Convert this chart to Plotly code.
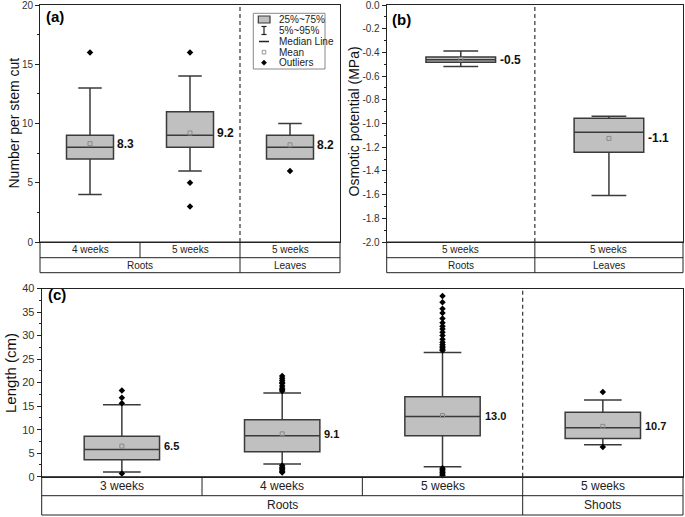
import plotly.graph_objects as go

W, H = 685, 517
FONT = "Arial, Liberation Sans, sans-serif"

# ---------------- data ----------------
# Panel (a): number per stem cut
a_cats = ["4 weeks", "5 weeks", "5 weeks"]
a_groups = ["Roots", "Roots", "Leaves"]
a_low = [4, 6, 7]
a_q1 = [7, 8, 7]
a_med = [8, 9, 8]
a_q3 = [9, 11, 9]
a_high = [13, 14, 10]
a_mean = [8.3, 9.2, 8.2]
a_out = [[16], [16, 5, 3], [6]]

# Panel (b): osmotic potential
b_cats = ["5 weeks", "5 weeks"]
b_groups = ["Roots", "Leaves"]
b_low = [-0.52, -1.607]
b_q1 = [-0.483, -1.242]
b_med = [-0.463, -1.073]
b_q3 = [-0.438, -0.955]
b_high = [-0.388, -0.938]
b_mean = [-0.46, -1.126]
b_labels = ["-0.5", "-1.1"]
b_out = [[], []]
b_ticks = [0.0, -0.2, -0.4, -0.6, -0.8, -1.0, -1.2, -1.4, -1.6, -1.8, -2.0]
b_ticktext = ["0.0", "-0.2", "-0.4", "-0.6", "-0.8", "-1.0", "-1.2", "-1.4", "-1.6", "-1.8", "-2.0"]

# Panel (c): length
c_cats = ["3 weeks", "4 weeks", "5 weeks", "5 weeks"]
c_groups = ["Roots", "Roots", "Roots", "Shoots"]
c_low = [1.0, 2.7, 2.1, 6.8]
c_q1 = [3.6, 5.3, 8.7, 8.1]
c_med = [5.8, 8.7, 12.8, 10.4]
c_q3 = [8.6, 12.1, 17.0, 13.7]
c_high = [15.3, 17.8, 26.4, 16.3]
c_mean = [6.5, 9.1, 13.0, 10.7]
c_out = [
    [15.6, 16.8, 18.3, 0.7],
    [18.2, 18.5, 18.8, 19.3, 19.8, 20.1, 20.5, 20.9, 21.4, 2.4, 2.0, 1.7, 1.4, 1.1, 0.9],
    [26.8, 27.1, 27.4, 27.7, 28.1, 28.6, 29.2, 30.0, 30.7, 31.4, 32.0, 32.7, 33.6,
     34.8, 35.7, 37.1, 38.4, 1.8, 1.5, 1.2, 0.9, 0.6, 0.3],
    [18.0, 6.3],
]

# ---------------- helpers ----------------
def px(x):
    return x / W

def py(y):
    return 1 - y / H

fig = go.Figure()
shapes = []
annotations = []

BOX_FILL = "#c0c0c0"
BOX_LINE = "#3a3a3a"
AX = "#222222"


def panel(idx, xpix, ypix, row_h, cats, groups, low, q1, med, q3, high, mean, outs,
          labels, yrange, ytick, panel_label, title, title_pos, plabel_pos,
          tick_font, table_font, title_font, val_font, tickvals=None, ticktext=None,
          minor_dtick=None):
    xa = "xaxis" if idx == 1 else f"xaxis{idx}"
    ya = "yaxis" if idx == 1 else f"yaxis{idx}"
    xr = "x" if idx == 1 else f"x{idx}"
    yr = "y" if idx == 1 else f"y{idx}"
    n = len(cats)
    pos = list(range(n))
    bw = 0.47

    fig.add_trace(go.Box(
        x=pos, q1=q1, median=med, q3=q3, lowerfence=low, upperfence=high,
        width=bw, whiskerwidth=0.5, fillcolor=BOX_FILL,
        line=dict(color=BOX_LINE, width=1.5), boxpoints=False,
        xaxis=xr, yaxis=yr, showlegend=False, hoverinfo="skip"))
    # mean markers
    fig.add_trace(go.Scatter(
        x=pos, y=mean, mode="markers", xaxis=xr, yaxis=yr, showlegend=False,
        marker=dict(symbol="square-open", size=4, color="#8a8a8a",
                    line=dict(width=1, color="#8a8a8a")), hoverinfo="skip"))
    # outliers
    ox, oy = [], []
    for i, o in enumerate(outs):
        ox += [i] * len(o)
        oy += o
    if ox:
        fig.add_trace(go.Scatter(
            x=ox, y=oy, mode="markers", xaxis=xr, yaxis=yr, showlegend=False,
            marker=dict(symbol="diamond", size=5, color="#000000"), hoverinfo="skip",
            cliponaxis=False))
    # value labels
    for i in range(n):
        annotations.append(dict(
            x=i + bw / 2 + 0.015, y=mean[i], xref=xr, yref=yr, text=f"<b>{labels[i]}</b>",
            showarrow=False, xanchor="left", yanchor="middle",
            font=dict(size=val_font, color="#111", family=FONT)))

    x0, x1 = xpix
    y0, y1 = ypix  # top, bottom in pixels
    fig.layout[xa] = dict(
        domain=[px(x0), px(x1)], range=[-0.5, n - 0.5], showgrid=False, zeroline=False,
        showticklabels=False, showline=True, mirror=True, linecolor=AX, linewidth=1,
        ticks="", anchor=yr, fixedrange=True, automargin=False)
    yax = dict(
        domain=[py(y1), py(y0)], range=yrange, showgrid=False, zeroline=False,
        showline=True, mirror=True, linecolor=AX, linewidth=1, ticks="outside",
        ticklen=4, tickcolor=AX, tickwidth=1, anchor=xr, automargin=False,
        ticklabeloverflow="allow",
        tickfont=dict(size=tick_font, color="#333", family=FONT),
        minor=dict(ticks="outside", ticklen=2, tickcolor=AX, dtick=minor_dtick),
        fixedrange=True)
    if tickvals is not None:
        yax.update(tickmode="array", tickvals=tickvals, ticktext=ticktext)
    else:
        yax.update(dtick=ytick, tick0=0)
    fig.layout[ya] = yax

    # table below the plot
    r1 = y1 + row_h[0]
    r2 = r1 + row_h[1]
    shapes.append(dict(type="rect", xref="paper", yref="paper", x0=px(x0), x1=px(x1),
                       y0=py(r2), y1=py(y1), line=dict(color=AX, width=1)))
    shapes.append(dict(type="line", xref="paper", yref="paper", x0=px(x0), x1=px(x1),
                       y0=py(r1), y1=py(r1), line=dict(color=AX, width=1)))
    for i in range(1, n):
        xb = i - 0.5
        if groups[i] != groups[i - 1]:
            shapes.append(dict(type="line", xref=xr, yref="paper", x0=xb, x1=xb,
                               y0=py(r2), y1=py(y1), line=dict(color=AX, width=1)))
            shapes.append(dict(type="line", xref=xr, yref="paper", x0=xb, x1=xb,
                               y0=py(y1), y1=py(y0),
                               line=dict(color="#333", width=1.2, dash="4px,3px")))
        else:
            shapes.append(dict(type="line", xref=xr, yref="paper", x0=xb, x1=xb,
                               y0=py(r1), y1=py(y1), line=dict(color=AX, width=1)))
    for i in range(n):
        annotations.append(dict(x=i, y=py((y1 + r1) / 2), xref=xr, yref="paper",
                                text=cats[i], showarrow=False, xanchor="center", yanchor="middle",
                                font=dict(size=table_font, color="#222", family=FONT)))
    # groups
    start = 0
    for i in range(1, n + 1):
        if i == n or groups[i] != groups[start]:
            annotations.append(dict(x=(start + i - 1) / 2, y=py((r1 + r2) / 2), xref=xr,
                                    yref="paper", text=groups[start], showarrow=False,
                                    xanchor="center", yanchor="middle",
                                    font=dict(size=table_font, color="#222", family=FONT)))
            start = i
    # panel label
    annotations.append(dict(x=px(plabel_pos[0]), y=py(plabel_pos[1]), xref="paper", yref="paper",
                            text=f"<b>{panel_label}</b>", showarrow=False, xanchor="left",
                            yanchor="middle", font=dict(size=15, color="#000", family=FONT)))
    # axis title
    annotations.append(dict(x=px(title_pos[0]), y=py(title_pos[1]), xref="paper", yref="paper",
                            text=title, textangle=-90, showarrow=False, xanchor="center",
                            yanchor="middle", font=dict(size=title_font, color="#111", family=FONT)))


panel(1, (40, 340), (5, 242), (15.7, 15), a_cats, a_groups, a_low, a_q1, a_med, a_q3, a_high,
      a_mean, a_out, [f"{m:.1f}" for m in a_mean], [0, 20], 5, "(a)", "Number per stem cut",
      (13, 123.5), (44, 17), 10, 10, 14, 12, minor_dtick=2.5)

panel(2, (386.7, 683), (5, 242), (15.7, 15), b_cats, b_groups, b_low, b_q1, b_med, b_q3, b_high,
      b_mean, b_out, b_labels, [-2, 0], 0.2, "(b)", "Osmotic potential (MPa)",
      (353.5, 122), (389.5, 19.3), 10, 10, 14, 12, tickvals=b_ticks, ticktext=b_ticktext,
      minor_dtick=0.1)

panel(3, (41.7, 683), (288.5, 476.7), (19, 19.3), c_cats, c_groups, c_low, c_q1, c_med, c_q3, c_high,
      c_mean, c_out, [f"{m:.1f}" for m in c_mean], [0, 40], 5, "(c)", "Length (cm)",
      (10, 373), (45.5, 294), 11, 12, 15, 11, minor_dtick=2.5)

# ---------------- legend for panel (a) (drawn manually) ----------------
lx0, lx1, ly0, ly1 = 253.3, 325, 13.3, 69
shapes.append(dict(type="rect", xref="paper", yref="paper", x0=px(lx0), x1=px(lx1),
                   y0=py(ly1), y1=py(ly0), line=dict(color="#888", width=1), fillcolor="white"))
sx = 264
rows = [19.5, 30.5, 41.5, 52.2, 62.7]
leg_text = ["25%~75%", "5%~95%", "Median Line", "Mean", "Outliers"]
# box swatch
shapes.append(dict(type="rect", xref="paper", yref="paper", x0=px(258.3), x1=px(270),
                   y0=py(rows[0] + 3.5), y1=py(rows[0] - 3.5), fillcolor=BOX_FILL,
                   line=dict(color=BOX_LINE, width=1.2)))
# whisker "I"
for seg in [((sx, rows[1] - 4), (sx, rows[1] + 4)), ((sx - 2.5, rows[1] - 4), (sx + 2.5, rows[1] - 4)),
            ((sx - 2.5, rows[1] + 4), (sx + 2.5, rows[1] + 4))]:
    shapes.append(dict(type="line", xref="paper", yref="paper", x0=px(seg[0][0]), y0=py(seg[0][1]),
                       x1=px(seg[1][0]), y1=py(seg[1][1]), line=dict(color="#222", width=1.2)))
# median line
shapes.append(dict(type="line", xref="paper", yref="paper", x0=px(259), x1=px(269),
                   y0=py(rows[2]), y1=py(rows[2]), line=dict(color="#222", width=1.5)))
# mean square
shapes.append(dict(type="rect", xref="paper", yref="paper", x0=px(sx - 1.8), x1=px(sx + 1.8),
                   y0=py(rows[3] + 1.8), y1=py(rows[3] - 1.8), line=dict(color="#999", width=1)))
# outlier diamond
d = 2.6
path = (f"M {px(sx)},{py(rows[4] - d)} L {px(sx + d)},{py(rows[4])} "
        f"L {px(sx)},{py(rows[4] + d)} L {px(sx - d)},{py(rows[4])} Z")
shapes.append(dict(type="path", xref="paper", yref="paper", path=path, fillcolor="#000",
                   line=dict(color="#000", width=0.5)))
for r, t in zip(rows, leg_text):
    annotations.append(dict(x=px(276.5), y=py(r), xref="paper", yref="paper", text=t,
                            showarrow=False, xanchor="left", yanchor="middle",
                            font=dict(size=10, color="#222", family=FONT)))

fig.update_layout(
    width=W, height=H, margin=dict(l=0, r=0, t=0, b=0, pad=0),
    paper_bgcolor="white", plot_bgcolor="white",
    shapes=shapes, annotations=annotations, showlegend=False,
    font=dict(family=FONT),
)

fig.write_html(
    "out.html",
    config={"displayModeBar": False, "staticPlot": True},
    post_script="document.body.style.margin='0';document.body.style.padding='0';"
                "document.body.style.overflow='hidden';",
)
